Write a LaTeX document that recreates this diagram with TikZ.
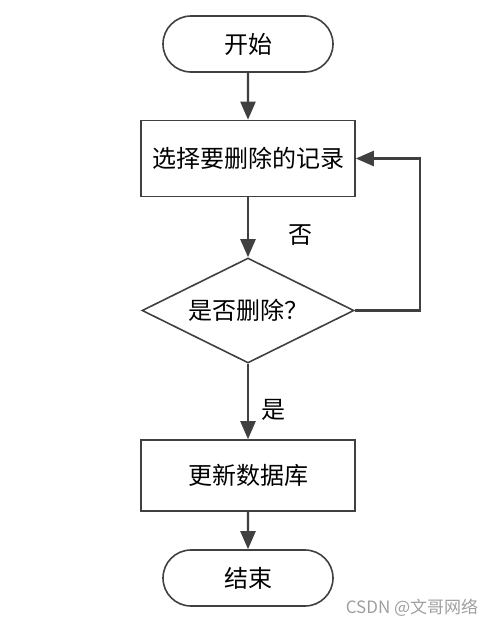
\documentclass[tikz,border=0pt]{standalone}
\usepackage{fontspec}
\setmainfont{Noto Sans CJK SC}
\usetikzlibrary{shapes.geometric,shapes.misc,arrows.meta}
\definecolor{linegray}{HTML}{404040}

\begin{document}
\begin{tikzpicture}[x=0.5pt,y=-0.5pt,
			font=\fontsize{12}{14}\selectfont,
			term node/.style={rounded rectangle,draw=linegray,line width=0.8pt,minimum width=85pt,minimum height=28pt,inner sep=0pt},
			proc node/.style={rectangle,draw=linegray,line width=0.8pt,minimum width=107pt,minimum height=38pt,inner sep=0pt},
			dec node/.style={diamond,draw=linegray,line width=0.8pt,shape aspect=2,minimum width=106pt,minimum height=52.5pt,inner sep=0pt},
			flow/.style={draw=linegray,line width=1.2pt,-{Triangle[length=9pt,width=7.5pt]}}
			]
			
			\useasboundingbox (0,0) rectangle (495,627);
			
			\node[term node] (start) at (248,44) {开始};
			\node[proc node] (select) at (248,158.5) {选择要删除的记录};
			\node[dec node] (ask) at (248,310.5) {是否删除？};
			\node[proc node, minimum height=35.5pt] (update) at (248,475.5) {更新数据库};
			\node[term node] (stop) at (248,578) {结束};
			
			\coordinate (back) at (420,158.5);
			
			\draw[flow] (start) -- (select);
			\draw[flow] (select) -- (ask);
			\draw[flow] (ask) -- (update);
			\draw[flow] (update) -- (stop);
			\draw[flow] (ask.east) -| (back) -- (select.east);
			
			\node (no) at (300,235) {否};
			\node (yes) at (273,410) {是};
			
			\node[text=gray!75,font=\fontsize{8.5}{10}\selectfont] (mark) at (412,608) {CSDN @文哥网络};
			
			\end{tikzpicture}
\end{document}
